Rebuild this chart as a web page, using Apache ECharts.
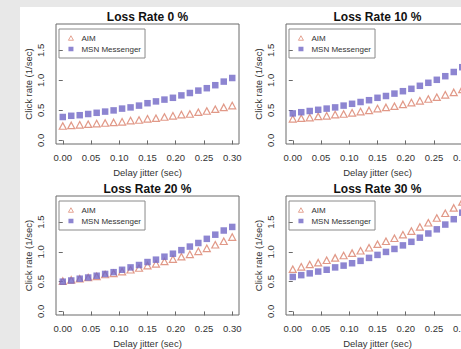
<!DOCTYPE html>
<html>
<head>
<meta charset="utf-8">
<script src="https://cdn.jsdelivr.net/npm/echarts@6/dist/echarts.min.js"></script>
<style>
html,body{margin:0;padding:0;overflow:hidden;background:#e8e8e8;}
#chart{position:absolute;left:0;top:0;width:490px;height:349px;}
</style>
</head>
<body>
<div id="chart"></div>
<script>
// Delay jitter (sec)
const jitter = [0.000,0.015,0.030,0.045,0.060,0.075,0.090,0.105,0.120,0.135,0.150,0.165,0.180,0.195,0.210,0.225,0.240,0.255,0.270,0.285,0.300];
const xTicks = [0,0.05,0.10,0.15,0.20,0.25,0.30];
const yTicks = [0,0.5,1.0,1.5];
const panelTitles = ['Loss Rate 0 %','Loss Rate 10 %','Loss Rate 20 %','Loss Rate 30 %'];
const seriesNames = ['AIM','MSN Messenger'];

// Click rate (1/sec), per panel
const aim0  = [0.24,0.25,0.26,0.27,0.28,0.29,0.30,0.31,0.33,0.34,0.36,0.37,0.39,0.41,0.43,0.44,0.47,0.49,0.52,0.55,0.58];
const msn0  = [0.39,0.41,0.42,0.44,0.46,0.48,0.50,0.53,0.55,0.58,0.62,0.65,0.68,0.71,0.75,0.79,0.83,0.87,0.92,0.98,1.04];
const aim10 = [0.36,0.37,0.38,0.40,0.41,0.43,0.44,0.46,0.48,0.50,0.53,0.55,0.57,0.60,0.63,0.66,0.69,0.72,0.76,0.80,0.85];
const msn10 = [0.45,0.47,0.49,0.51,0.53,0.55,0.58,0.61,0.64,0.67,0.71,0.74,0.78,0.82,0.86,0.91,0.96,1.01,1.07,1.14,1.22];
const aim20 = [0.51,0.53,0.55,0.57,0.59,0.62,0.64,0.67,0.70,0.73,0.77,0.80,0.84,0.88,0.92,0.96,1.01,1.06,1.12,1.18,1.25];
const msn20 = [0.50,0.52,0.55,0.57,0.60,0.63,0.66,0.70,0.74,0.78,0.83,0.87,0.92,0.97,1.03,1.09,1.15,1.22,1.29,1.36,1.42];
const aim30 = [0.71,0.75,0.79,0.82,0.86,0.90,0.94,0.98,1.02,1.07,1.13,1.18,1.23,1.29,1.35,1.42,1.49,1.57,1.65,1.74,1.84];
const msn30 = [0.58,0.61,0.64,0.67,0.70,0.74,0.77,0.81,0.85,0.90,0.95,1.00,1.05,1.11,1.17,1.24,1.31,1.38,1.46,1.55,1.66];

const aimSets = [aim0, aim10, aim20, aim30];
const msnSets = [msn0, msn10, msn20, msn30];

const AIM_COLOR = '#d9806a';
const MSN_COLOR = '#7066c6';
const FONT = 'Liberation Sans, Arial, Helvetica, sans-serif';

const gridPos = [[56,24],[286,24],[56,196],[286,196]];
const GW = 183, GH = 120;

const grid = [], xAxis = [], yAxis = [], series = [], title = [], legend = [];
gridPos.forEach((p, i) => {
  grid.push({left:p[0], top:p[1], width:GW, height:GH, show:true, borderColor:'#6a6a6a', borderWidth:1, backgroundColor:'transparent'});
  xAxis.push({
    type:'value', gridIndex:i, min:-0.012, max:0.312,
    name:'Delay jitter (sec)', nameLocation:'middle', nameGap:23,
    nameTextStyle:{fontFamily:FONT, fontSize:9.5, color:'#333'},
    axisLine:{show:false},
    axisTick:{show:true, length:4, customValues:xTicks, lineStyle:{color:'#6a6a6a'}},
    axisLabel:{customValues:xTicks, margin:8, fontFamily:FONT, fontSize:9.5, color:'#333', formatter:v=>v.toFixed(2)},
    splitLine:{show:false}
  });
  yAxis.push({
    type:'value', gridIndex:i, min:-0.06, max:1.94,
    name:'Click rate (1/sec)', nameLocation:'middle', nameGap:23, nameRotate:90,
    nameTextStyle:{fontFamily:FONT, fontSize:9.5, color:'#333'},
    axisLine:{show:false},
    axisTick:{show:true, length:4, customValues:yTicks, lineStyle:{color:'#6a6a6a'}},
    axisLabel:{customValues:yTicks, rotate:90, margin:11, fontFamily:FONT, fontSize:9.5, color:'#333', formatter:v=>v.toFixed(1)},
    splitLine:{show:false}
  });
  title.push({
    text:panelTitles[i], left:p[0]+GW/2, top:p[1]-13, textAlign:'center', padding:0,
    textStyle:{fontFamily:FONT, fontSize:12, fontWeight:'bold', color:'#111'}
  });
  legend.push({
    data:[
      {name:seriesNames[0], icon:'triangle', itemStyle:{color:'rgba(255,255,255,0)', borderColor:AIM_COLOR, borderWidth:0.9}},
      {name:seriesNames[1], icon:'rect', itemStyle:{color:MSN_COLOR, borderWidth:0}}
    ],
    orient:'vertical', left:p[0]+3, top:p[1]+5,
    borderColor:'#8a8a8a', borderWidth:1, padding:[5,4,5,9], itemGap:3,
    itemWidth:5, itemHeight:4.5, selectedMode:false,
    textStyle:{fontFamily:FONT, fontSize:8, color:'#333', padding:[0,0,0,3]}
  });
  series.push({
    type:'scatter', name:'AIM', xAxisIndex:i, yAxisIndex:i,
    symbol:'triangle', symbolSize:[7,6.5],
    itemStyle:{color:'rgba(255,255,255,0)', borderColor:AIM_COLOR, borderWidth:1.2},
    data:jitter.map((x, k) => [x, aimSets[i][k]])
  });
  series.push({
    type:'scatter', name:'MSN Messenger', xAxisIndex:i, yAxisIndex:i,
    symbol:'rect', symbolSize:6.5,
    itemStyle:{color:MSN_COLOR},
    data:jitter.map((x, k) => [x, msnSets[i][k]])
  });
});

const chart = echarts.init(document.getElementById('chart'), null, {renderer:'svg'});
chart.setOption({
  backgroundColor:'#e8e8e8',
  animation:false,
  graphic:[{type:'rect', z:-10, shape:{x:20, y:7, width:480, height:350}, style:{fill:'#ffffff'}}],
  title, legend, grid, xAxis, yAxis, series
});
</script>
</body>
</html>
